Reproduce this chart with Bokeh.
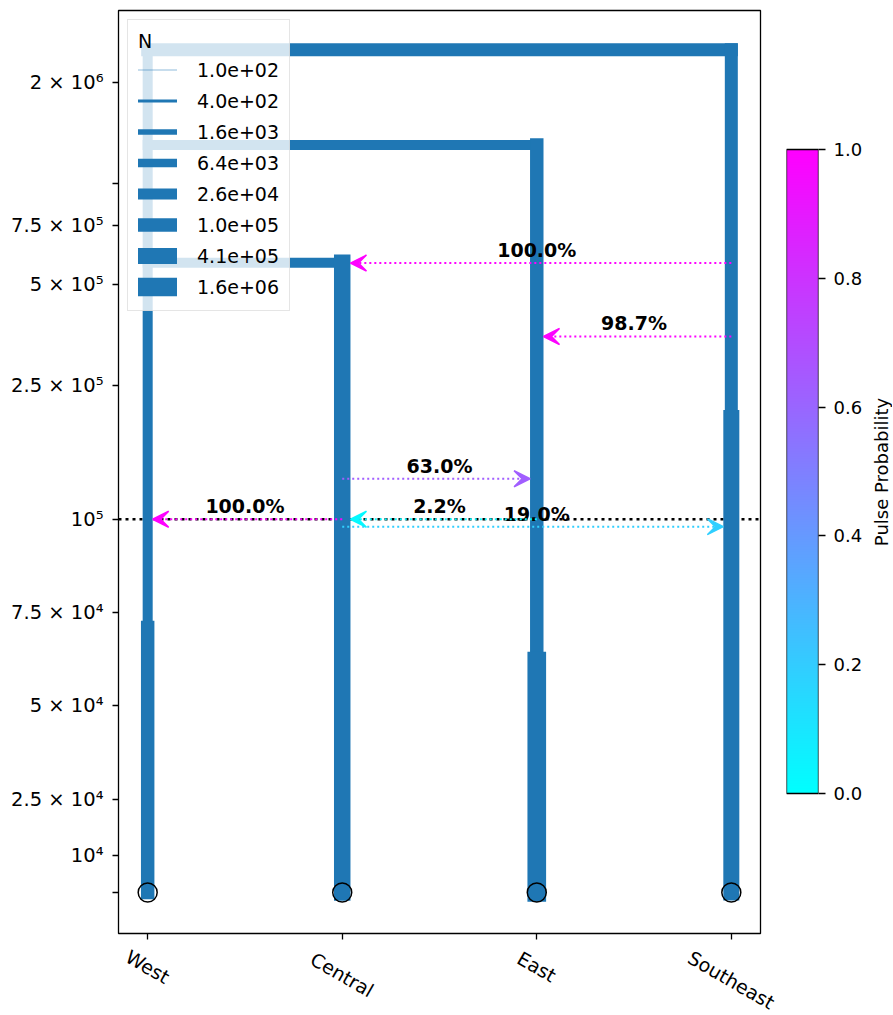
import numpy as np
from bokeh.plotting import figure
from bokeh.models import (Range1d, FixedTicker, Arrow, VeeHead, Legend, LegendItem,
                          LinearColorMapper, PrintfTickFormatter, Span)
from bokeh.layouts import gridplot
from bokeh.core.properties import value
from bokeh.embed import file_html
from bokeh.resources import INLINE

# ---------------- data ----------------
demes = ["West", "Central", "East", "Southeast"]

epoch_deme = ["West", "West", "Central", "East", "East", "Southeast", "Southeast"]
epoch_start = [2.5e6, 7.1e4, 5.8e5, 1.3e6, 6.2e4, 2.5e6, 2.0e5]
epoch_end = [7.1e4, 0.0, 0.0, 6.2e4, 0.0, 2.0e5, 0.0]
epoch_N = [1.6e4, 1.0e5, 5.0e5, 1.0e5, 1.6e6, 7.8e4, 3.9e5]

anc_parent = ["West", "West", "West"]
anc_child = ["Southeast", "East", "Central"]
anc_time = [2.5e6, 1.3e6, 5.8e5]
anc_N = [7.8e4, 1.6e4, 1.6e4]

pulse_source = ["Southeast", "Southeast", "Central", "Central", "East", "Central"]
pulse_dest = ["Central", "East", "East", "West", "Central", "Southeast"]
pulse_time = [5.79e5, 3.5e5, 1.32e5, 1.0e5, 1.0e5, 9.8e4]
pulse_prob = [1.0, 0.987, 0.63, 1.0, 0.022, 0.19]

legend_N = [1.0e2, 4.0e2, 1.6e3, 6.4e3, 2.56e4, 1.024e5, 4.096e5, 1.6384e6]
legend_title = "N"

sample_time = 0.0
ref_time = 1.0e5

ytick_values = [0.0, 1e4, 2.5e4, 5e4, 7.5e4, 1e5, 2.5e5, 5e5, 7.5e5, 1e6, 2e6]
ytick_labels = ["", "10\u2074", "2.5 \u00d7 10\u2074", "5 \u00d7 10\u2074", "7.5 \u00d7 10\u2074",
                "10\u2075", "2.5 \u00d7 10\u2075", "5 \u00d7 10\u2075", "7.5 \u00d7 10\u2075",
                "", "2 \u00d7 10\u2076"]
cbar_ticks = [0.0, 0.2, 0.4, 0.6, 0.8, 1.0]
cbar_title = "Pulse Probability"

# ---------------- helpers ----------------
C0 = "#1f77b4"
FONT = "DejaVu Sans"
LT = 1e5
LS = 1.0 / (1.0 - 0.1)


def sl(t):
    """symlog transform (linthresh 1e5, linscale 1)"""
    t = np.asarray(t, dtype=float)
    a = np.abs(t)
    v = np.where(a <= LT, a / LT * LS, LS + np.log10(np.maximum(a, LT) / LT))
    return np.sign(t) * v


def lw(n):
    return 0.5 + 4.32 * np.log10(np.asarray(n, dtype=float) / 100.0)


def cool(p):
    return "#%02x%02x%02x" % (int(round(255 * p)), int(round(255 * (1 - p))), 255)


def bare(f):
    f.xgrid.grid_line_color = None
    f.ygrid.grid_line_color = None
    f.outline_line_color = None


xpos = {d: i for i, d in enumerate(demes)}

FRAME_W, FRAME_H = 642, 923
BL, BT, BR, BB = 118, 10, 8, 13
LAB_H = 68
LAB_W = 662
X0, X1 = -0.15, 3.15
PXU = FRAME_W / (X1 - X0)
Y0, Y1 = float(sl(-1.1e4)), float(sl(3.27e6))

p = figure(frame_width=FRAME_W, frame_height=FRAME_H,
           x_range=Range1d(X0, X1), y_range=Range1d(Y0, Y1),
           min_border_left=BL, min_border_right=BR, min_border_top=BT, min_border_bottom=BB,
           output_backend="svg", toolbar_location=None)
p.xgrid.grid_line_color = None
p.ygrid.grid_line_color = None
p.outline_line_color = "black"
p.outline_line_width = 1.3

# reference time line (under demes)
p.add_layout(Span(location=float(sl(ref_time)), dimension="width", line_color="black",
                  line_dash="3 4", line_width=2.5, level="underlay"))

# ancestry connectors
p.segment(x0=[xpos[a] for a in anc_parent], y0=sl(anc_time),
          x1=[xpos[c] for c in anc_child], y1=sl(anc_time),
          line_width=lw(anc_N), line_color=C0, line_cap="square")

# deme epochs
p.segment(x0=[xpos[d] for d in epoch_deme], y0=sl(epoch_start),
          x1=[xpos[d] for d in epoch_deme], y1=sl(epoch_end),
          line_width=lw(epoch_N), line_color=C0, line_cap="square")

# samples
p.scatter(x=[xpos[d] for d in demes], y=[float(sl(sample_time))] * len(demes),
          size=19, fill_color=None, line_color="black", line_width=1.5)


def size_at(deme, t):
    for d, s, e, n in zip(epoch_deme, epoch_start, epoch_end, epoch_N):
        if d == deme and e <= t <= s:
            return n
    return epoch_N[epoch_deme.index(deme)]


# pulses
lab_x, lab_y, lab_t = [], [], []
for src, dst, t, pr in zip(pulse_source, pulse_dest, pulse_time, pulse_prob):
    xs, xd = xpos[src], xpos[dst]
    sgn = 1 if xd > xs else -1
    xe = xd - sgn * (float(lw(size_at(dst, t))) / 2.0) / PXU
    c = cool(pr)
    p.add_layout(Arrow(x_start=xs, y_start=float(sl(t)), x_end=xe, y_end=float(sl(t)),
                       line_color=c, line_width=2, line_dash="2 3",
                       end=VeeHead(size=16, fill_color=c, fill_alpha=1.0,
                                   line_color=c, line_width=1.5)))
    lab_x.append((xs + xd) / 2.0)
    lab_y.append(float(sl(t)))
    lab_t.append("%.1f%%" % (pr * 100))

p.text(x=lab_x, y=lab_y, text=lab_t, text_font=value(FONT), text_font_style="bold",
       text_font_size="19px", text_align="center", text_baseline="bottom",
       text_color="black", y_offset=-2)

# axes
p.yaxis.ticker = FixedTicker(ticks=[float(sl(v)) for v in ytick_values])
p.yaxis.major_label_overrides = {float(sl(v)): l for v, l in zip(ytick_values, ytick_labels)}
p.xaxis.ticker = FixedTicker(ticks=list(range(len(demes))))
p.xaxis.major_label_overrides = {i: "" for i in range(len(demes))}
for ax in (p.xaxis[0], p.yaxis[0]):
    ax.axis_line_color = None
    ax.major_tick_out = 6
    ax.major_tick_in = 0
    ax.minor_tick_out = 0
    ax.minor_tick_in = 0
    ax.major_tick_line_color = "black"
    ax.major_tick_line_width = 1.3
    ax.major_label_text_font = FONT
    ax.major_label_text_font_size = "19.5px"
    ax.major_label_text_color = "black"
    ax.major_label_standoff = 9

# legend
items = []
for n in legend_N:
    r = p.line(x=[np.nan], y=[np.nan], line_width=float(lw(n)), line_color=C0, line_cap="square")
    items.append(LegendItem(label="%.1e" % n, renderers=[r]))
legend = Legend(items=items, location="top_left", title=legend_title, margin=9, padding=10,
                glyph_width=39, glyph_height=27, label_height=27, spacing=4,
                label_standoff=20, label_text_font=FONT, label_text_font_size="19px",
                label_text_color="black",
                title_text_font=FONT, title_text_font_size="19px", title_text_font_style="normal",
                title_text_color="black", title_standoff=4,
                background_fill_color="white", background_fill_alpha=0.8,
                border_line_color="#cccccc", border_line_width=1)
p.add_layout(legend)

# ---------------- rotated category labels (strip below the axis) ----------------
p3 = figure(frame_width=LAB_W, frame_height=LAB_H, x_range=Range1d(X0, X0 + LAB_W / PXU),
            y_range=Range1d(-LAB_H, 0), x_axis_location=None, y_axis_location=None,
            min_border_left=BL, min_border_right=5, min_border_top=0, min_border_bottom=0,
            output_backend="svg", toolbar_location=None)
bare(p3)
lx, ly = [], []
for i, name in enumerate(demes):
    w = 0.56 * 19 * len(name)
    lx.append(i)
    ly.append(-(w * 0.5 + 22 * 0.866) / 2.0)
p3.text(x=lx, y=ly, text=demes, angle=-np.pi / 6, text_align="center", text_baseline="middle",
        text_font=value(FONT), text_font_size="19px", text_color="black")

# ---------------- colorbar ----------------
CB_W = 32
BAR_TOP_PX, BAR_BOT_PX = 139, 140
BAR_PX = FRAME_H - BAR_TOP_PX - BAR_BOT_PX
p2 = figure(frame_width=CB_W, frame_height=FRAME_H, x_range=Range1d(0, 1),
            y_range=Range1d(-BAR_BOT_PX / BAR_PX, 1 + BAR_TOP_PX / BAR_PX),
            y_axis_location="right", x_axis_location=None,
            min_border_left=1, min_border_right=52, min_border_top=BT, min_border_bottom=BB,
            output_backend="svg", toolbar_location=None)
bare(p2)
palette = [cool(i / 255.0) for i in range(256)]
mapper = LinearColorMapper(palette=palette, low=0, high=1)
p2.image(image=[np.linspace(0, 1, 256).reshape(-1, 1)], x=0, y=0, dw=1, dh=1, color_mapper=mapper)
p2.quad(left=[0], right=[1], bottom=[0], top=[1], fill_color=None, line_color="black", line_width=1.3)
ay = p2.yaxis[0]
ay.ticker = FixedTicker(ticks=cbar_ticks)
ay.formatter = PrintfTickFormatter(format="%.1f")
ay.axis_line_color = None
ay.major_tick_out = 7
ay.major_tick_in = 0
ay.minor_tick_out = 0
ay.minor_tick_in = 0
ay.major_tick_line_color = "black"
ay.major_tick_line_width = 1.3
ay.major_label_text_font = FONT
ay.major_label_text_font_size = "18px"
ay.major_label_text_color = "black"
ay.major_label_standoff = 8

p4 = figure(frame_width=22, frame_height=FRAME_H, x_range=Range1d(0, 1), y_range=Range1d(0, 1),
            x_axis_location=None, y_axis_location=None,
            min_border_left=0, min_border_right=0, min_border_top=BT, min_border_bottom=BB,
            output_backend="svg", toolbar_location=None)
bare(p4)
p4.text(x=[0.5], y=[0.5], text=[cbar_title], angle=np.pi / 2, text_align="center",
        text_baseline="middle", text_font=value(FONT), text_font_size="18px", text_color="black")

layout = gridplot([[p, p2, p4], [p3, None, None]], toolbar_location=None)
open("out.html", "w").write(file_html(layout, INLINE))
